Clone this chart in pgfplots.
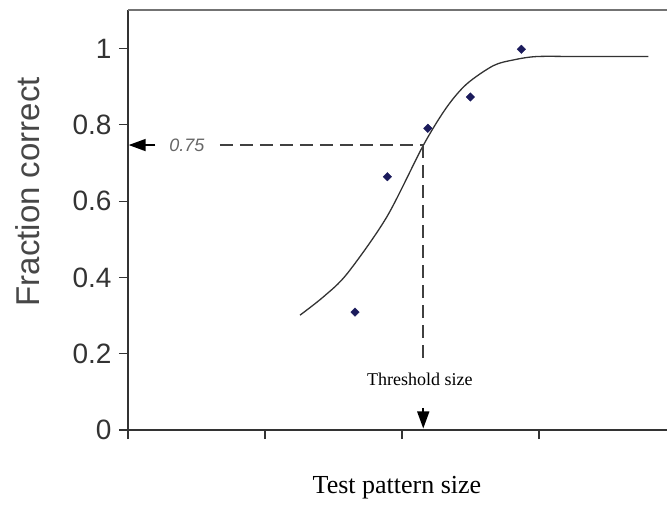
\documentclass[border=0pt]{standalone}
\usepackage{pgfplots}
\pgfplotsset{compat=1.18}
\usepackage{fontspec}
\setmainfont{Liberation Sans}
\newfontfamily\seriffont{Liberation Serif}
\usetikzlibrary{arrows.meta}
\definecolor{navy}{HTML}{1B1B5C}
\definecolor{axisgray}{HTML}{333333}

\begin{document}
\begin{tikzpicture}[>={Triangle[length=17pt,width=12pt]}]
  \path[use as bounding box] (-128pt,-74pt) rectangle (539pt,430pt);
  \begin{axis}[
      scale only axis,
      width=539pt, height=420pt,
      xmin=0, xmax=3.934,
      ymin=0, ymax=1.101,
      axis x line=bottom, axis y line=left,
      axis line style={-, line width=1.4pt, axisgray},
      xtick={0,1,2,3}, xticklabels={},
      ytick={0,0.2,0.4,0.6,0.8,1},
      yticklabels={0,0.2,0.4,0.6,0.8,1},
      tick align=outside,
      major tick length=9pt,
      tick style={line width=1.2pt, axisgray},
      /pgf/number format/assume math mode=true,
      yticklabel style={font=\fontsize{28}{30}\selectfont, text=black!80, xshift=-4pt},
      ylabel={Fraction correct},
      ylabel style={at={(axis description cs:-0.1855,0.567)}, anchor=center, rotate=0,
        font=\fontsize{33}{36}\selectfont, text=black!72},
      xlabel={Test pattern size},
      xlabel style={at={(axis description cs:0.499,-0.138)}, anchor=center,
        font=\seriffont\fontsize{26}{28}\selectfont},
      clip=false,
  ]
  % top frame line
  \draw[line width=1.2pt, black!55] (rel axis cs:0,1) -- (rel axis cs:1,1);

  % fitted psychometric curve
  \addplot[smooth, line width=1.3pt, black!80, mark=none] coordinates {
    (1.255,0.301) (1.426,0.349) (1.600,0.410) (1.888,0.558) (2.155,0.746)
    (2.326,0.846) (2.472,0.907) (2.666,0.955) (2.812,0.970) (2.983,0.979)
    (3.300,0.979) (3.798,0.979)
  };

  % observed data
  \addplot[only marks, mark=square*, mark size=3pt, mark options={rotate=45}, navy]
  coordinates {
    (1.657,0.309) (1.893,0.664) (2.188,0.791) (2.499,0.873) (2.871,0.998)
  };

  % threshold annotation
  \draw[line width=1.6pt, black!75, dash pattern=on 13pt off 7pt]
    (axis cs:0.67,0.747) -- (axis cs:2.155,0.747);
  \draw[line width=1.6pt, black!75, dash pattern=on 13pt off 7pt]
    (axis cs:2.155,0.747) -- (axis cs:2.155,0.18);
  \draw[line width=1.6pt, black, ->] (axis cs:0.2,0.747) -- (axis cs:0.005,0.747);
  \draw[line width=1.6pt, black, ->] (axis cs:2.155,0.058) -- (axis cs:2.155,0.004);
  \node[font=\itshape\fontsize{18}{20}\selectfont, text=black!60] at (axis cs:0.43,0.747) {0.75};
  \node[font=\seriffont\fontsize{18}{20}\selectfont] at (axis cs:2.13,0.132) {Threshold size};
  \end{axis}
\end{tikzpicture}
\end{document}
